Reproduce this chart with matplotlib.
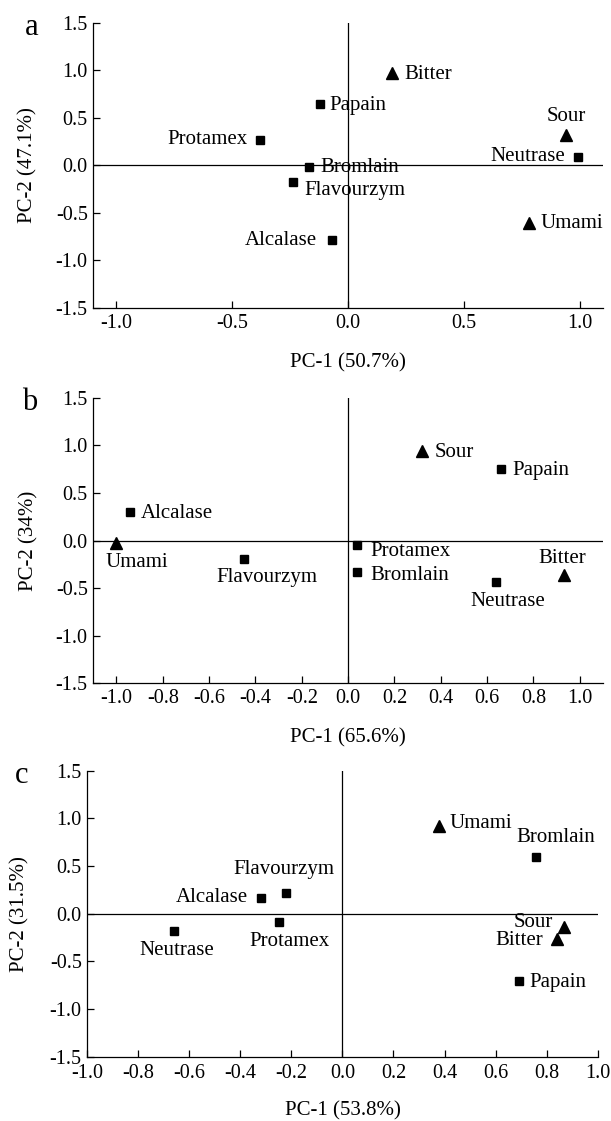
import matplotlib
matplotlib.use("Agg")
import matplotlib.pyplot as plt

plt.rcParams['font.family'] = ['Liberation Serif', 'DejaVu Serif']

# ---------------- data ----------------
names_a = ["Bitter", "Papain", "Sour", "Neutrase", "Protamex", "Bromlain", "Flavourzym", "Alcalase", "Umami"]
pc1_a = [0.19, -0.12, 0.94, 0.99, -0.38, -0.17, -0.24, -0.07, 0.78]
pc2_a = [0.97, 0.64, 0.32, 0.09, 0.27, -0.02, -0.17, -0.78, -0.61]
kind_a = ["t", "s", "t", "s", "s", "s", "s", "s", "t"]

names_b = ["Sour", "Papain", "Alcalase", "Umami", "Flavourzym", "Protamex", "Bromlain", "Neutrase", "Bitter"]
pc1_b = [0.32, 0.66, -0.94, -1.00, -0.45, 0.04, 0.04, 0.64, 0.93]
pc2_b = [0.94, 0.75, 0.30, -0.03, -0.19, -0.05, -0.33, -0.44, -0.36]
kind_b = ["t", "s", "s", "t", "s", "s", "s", "s", "t"]

names_c = ["Umami", "Bromlain", "Flavourzym", "Alcalase", "Protamex", "Neutrase", "Sour", "Bitter", "Papain"]
pc1_c = [0.38, 0.76, -0.22, -0.32, -0.25, -0.66, 0.87, 0.84, 0.69]
pc2_c = [0.92, 0.60, 0.22, 0.16, -0.09, -0.18, -0.14, -0.27, -0.71]
kind_c = ["t", "s", "s", "s", "s", "s", "t", "t", "s"]

xlabels = ["PC-1 (50.7%)", "PC-1 (65.6%)", "PC-1 (53.8%)"]
ylabels = ["PC-2 (47.1%)", "PC-2 (34%)", "PC-2 (31.5%)"]
letters = ["a", "b", "c"]

# label placement: (dx pts, dy pts, ha)  (va is 'center')
place_a = [(8.5, -1, 'left'), (6.5, -1, 'left'), (0, 13.5, 'center'), (-9, 0, 'right'),
           (-9, 0, 'right'), (8, 0, 'left'), (8.5, -6.5, 'left'), (-11, -0.5, 'right'),
           (8.5, 0, 'left')]
place_b = [(9, -1, 'left'), (8.5, -1, 'left'), (7.5, -1, 'left'), (15, -14, 'center'),
           (16.5, -13.5, 'center'), (9, -4.5, 'left'), (9, -2.5, 'left'), (8, -13.5, 'center'),
           (-1, 12, 'center')]
place_c = [(7, 2, 'left'), (14, 13.5, 'center'), (-2, 17, 'center'), (-9, 1, 'right'),
           (8, -14, 'center'), (2, -14, 'center'), (-8, 3, 'right'), (-10, -1, 'right'),
           (7.5, -0.5, 'left')]

W, H = 611, 1121
fig = plt.figure(figsize=(W / 100, H / 100), dpi=100)

rects = [
    (93.3, 603.0, 22.7, 308.0),
    (93.3, 603.0, 397.7, 683.3),
    (87.3, 597.6, 770.7, 1056.7),
]
xlab_y = [-0.193, -0.1915, -0.188]
ylab_x = [-0.128, -0.127, -0.133]
xpad = [4, 4, 5]
letter_pos = [(31.7, 35), (30, 410), (21.7, 783)]
xlims = [(-1.1, 1.1), (-1.1, 1.1), (-1.0, 1.0)]
xticks = [[-1.0, -0.5, 0.0, 0.5, 1.0],
          [-1.0, -0.8, -0.6, -0.4, -0.2, 0.0, 0.2, 0.4, 0.6, 0.8, 1.0],
          [-1.0, -0.8, -0.6, -0.4, -0.2, 0.0, 0.2, 0.4, 0.6, 0.8, 1.0]]
panels = [(names_a, pc1_a, pc2_a, kind_a, place_a),
          (names_b, pc1_b, pc2_b, kind_b, place_b),
          (names_c, pc1_c, pc2_c, kind_c, place_c)]

for i, (l, r, t, b) in enumerate(rects):
    ax = fig.add_axes([l / W, 1 - b / H, (r - l) / W, (b - t) / H])
    names, xs, ys, kinds, place = panels[i]
    ax.set_xlim(*xlims[i])
    ax.set_ylim(-1.5, 1.5)
    ax.set_xticks(xticks[i])
    ax.set_xticklabels([f"{v:.1f}" for v in xticks[i]])
    yt = [-1.5, -1.0, -0.5, 0.0, 0.5, 1.0, 1.5]
    ax.set_yticks(yt)
    ax.set_yticklabels([f"{v:.1f}" for v in yt])
    for s in ['top', 'right']:
        ax.spines[s].set_visible(False)
    for s in ['left', 'bottom']:
        ax.spines[s].set_linewidth(0.9)
    ax.tick_params(direction='in', length=5, width=0.9, labelsize=14.5, pad=4)
    ax.tick_params(axis='x', pad=xpad[i])
    ax.axhline(0, color='black', lw=0.9)
    ax.axvline(0, color='black', lw=0.9)
    for n, x, y, k, p in zip(names, xs, ys, kinds, place):
        ax.plot([x], [y], marker='^' if k == 't' else 's', ms=8 if k == 't' else 5.8,
                color='black', ls='none', clip_on=False)
        ax.annotate(n, (x, y), xytext=(p[0], p[1]), textcoords='offset points',
                    ha=p[2], va='center', fontsize=15)
    ax.set_xlabel(xlabels[i], fontsize=15, va='center')
    ax.xaxis.set_label_coords(0.5, xlab_y[i])
    ax.set_ylabel(ylabels[i], fontsize=15, va='center')
    ax.yaxis.set_label_coords(ylab_x[i], 0.5)
    fig.text(letter_pos[i][0] / W, 1 - letter_pos[i][1] / H, letters[i], fontsize=22,
             ha='center', va='baseline')

fig.savefig("out.png", dpi=100)
